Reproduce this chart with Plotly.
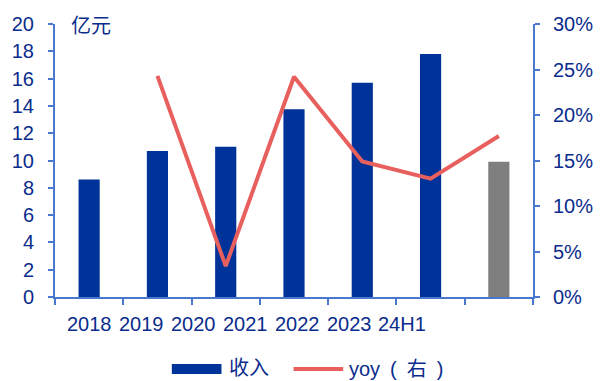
import plotly.graph_objects as go

categories = ["2018", "2019", "2020", "2021", "2022", "2023", "24H1"]
revenue = [8.6, 10.7, 11.0, 13.75, 15.7, 17.8, 9.9]
yoy_x = ["2019", "2020", "2021", "2022", "2023", "24H1"]
yoy = [0.243, 0.034, 0.242, 0.149, 0.130, 0.177]
bar_colors = ["#003399"] * 6 + ["#7F7F7F"]

NAVY = "#003399"
TXT = "#0A2C8C"
AX = "#4A78CF"
RED = "#E8605E"
FONT = "Liberation Sans, Arial, Noto Sans CJK SC"

fig = go.Figure()
fig.add_trace(go.Bar(x=categories, y=revenue, marker=dict(color=bar_colors, line=dict(width=0)),
                     width=0.31, name="收入", yaxis="y"))
fig.add_trace(go.Scatter(x=yoy_x, y=yoy, mode="lines", line=dict(color=RED, width=4),
                         name="yoy（右）", yaxis="y2"))

fig.update_layout(
    width=605, height=381,
    margin=dict(l=52, r=62, t=24, b=84),
    paper_bgcolor="white", plot_bgcolor="white",
    showlegend=False,
    font=dict(family=FONT, size=20, color=TXT),
    xaxis=dict(type="category", categoryorder="array", categoryarray=categories,
               range=[-0.5, 6.5], showticklabels=False, showline=True, linecolor=AX, linewidth=2,
               ticks="outside", tickson="boundaries", ticklen=6, tickcolor=AX, tickwidth=2,
               showgrid=False, zeroline=False),
    yaxis=dict(range=[0, 20], dtick=2, showline=True, linecolor=AX, linewidth=2,
               ticks="outside", ticklen=5, tickcolor=AX, tickwidth=2, showgrid=False,
               zeroline=False, ticklabelstandoff=10, tickfont=dict(size=20, color=TXT)),
    yaxis2=dict(range=[0, 0.30], dtick=0.05, tickformat=".0%", overlaying="y", side="right",
                showline=True, linecolor=AX, linewidth=2, ticks="outside", ticklen=5,
                tickcolor=AX, tickwidth=2, showgrid=False, zeroline=False,
                ticklabelstandoff=9, tickfont=dict(size=20, color=TXT)),
)

# compressed category labels as in the reference
x0 = (87 - 52) / 491
step = 53.5 / 491
for i, lab in enumerate(categories):
    fig.add_annotation(x=x0 + i * step, y=0, xref="paper", yref="paper", text=lab,
                       showarrow=False, xanchor="center", yanchor="middle", yshift=-27,
                       font=dict(size=20, color=TXT, family=FONT))

# unit label
fig.add_annotation(x=(66 - 52) / 491, y=1, xref="paper", yref="paper", text="亿元",
                   showarrow=False, xanchor="left", yanchor="middle",
                   font=dict(size=20, color=TXT, family="Noto Sans CJK SC"))

# manual legend
ly = -(369 - 297) / 273
fig.add_shape(type="rect", xref="paper", yref="paper",
              x0=(172 - 52) / 491, x1=(223 - 52) / 491,
              y0=-(364 - 297) / 273, y1=-(374 - 297) / 273,
              fillcolor=NAVY, line=dict(width=0))
fig.add_annotation(x=(229 - 52) / 491, y=ly, xref="paper", yref="paper",
                   text="收入", showarrow=False, xanchor="left", yanchor="middle", yshift=3,
                   font=dict(size=20, color=TXT, family="Noto Sans CJK SC"))
fig.add_shape(type="line", xref="paper", yref="paper",
              x0=(297 - 52) / 491, x1=(348 - 52) / 491,
              y0=ly, y1=ly,
              line=dict(color=RED, width=4))
fig.add_annotation(x=(352 - 52) / 491, y=ly, xref="paper", yref="paper",
                   text="yoy\u2002(\u2002右\u2002)", showarrow=False, xanchor="left", yanchor="middle",
                   font=dict(size=20, color=TXT, family=FONT))

fig.write_html("out.html")
